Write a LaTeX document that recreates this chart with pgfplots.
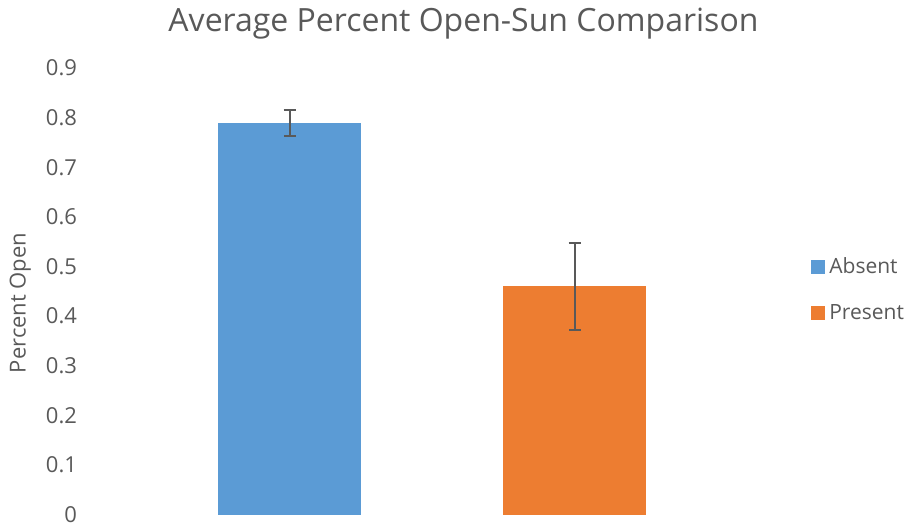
\documentclass[border=0pt]{standalone}
\usepackage{pgfplots}
\pgfplotsset{compat=1.18}
\usepackage{fontspec}
\setmainfont{Open Sans}
\definecolor{cblue}{HTML}{5B9BD5}
\definecolor{corange}{HTML}{ED7D31}
\definecolor{ctext}{HTML}{595959}
\begin{document}
\begin{tikzpicture}
\path[use as bounding box] (0,0) rectangle (452.5pt,262.5pt);
\begin{axis}[
  at={(45pt,5.2pt)}, anchor=south west,
  scale only axis, width=342pt, height=223.3pt,
  xmin=-0.7, xmax=1.7, ymin=0, ymax=0.9,
  ytick={0,0.1,...,0.9},
  xtick=\empty,
  axis line style={draw=none},
  tick style={draw=none},
  clip=false,
  font=\fontsize{11}{13}\selectfont,
  /pgf/number format/assume math mode=true,
  yticklabel style={text=ctext, xshift=-3pt},
  every axis title shift=0pt,
  title={Average Percent Open-Sun Comparison},
  title style={font=\fontsize{16}{19}\selectfont, text=ctext, at={(axis description cs:0.546,1.10)}, anchor=center},
  ylabel={Percent Open},
  ylabel style={text=ctext, at={(axis description cs:-0.102,0.474)}, anchor=center, rotate=0},
  legend style={draw=none, at={(axis description cs:1.054,0.503)}, anchor=west, text=ctext,
    row sep=10pt, font=\fontsize{10.5}{12.5}\selectfont, inner sep=0pt, cells={anchor=west}},
  legend image code/.code={\fill[#1] (0pt,-3.5pt) rectangle (7pt,3.5pt);},
  error bars/error bar style={color=ctext, line width=1pt},
  error bars/error mark options={rotate=90, mark size=3pt, line width=1pt, color=ctext},
]
\addplot[ybar, bar width=71.5pt, bar shift=0pt, fill=cblue, draw=none,
  error bars/.cd, y dir=both, y explicit]
  coordinates {(0,0.789) +- (0,0.0256)};
\addlegendentry{Absent}
\addplot[ybar, bar width=71.5pt, bar shift=0pt, fill=corange, draw=none,
  error bars/.cd, y dir=both, y explicit]
  coordinates {(1,0.460) +- (0,0.088)};
\addlegendentry{Present}
\end{axis}
\end{tikzpicture}
\end{document}
